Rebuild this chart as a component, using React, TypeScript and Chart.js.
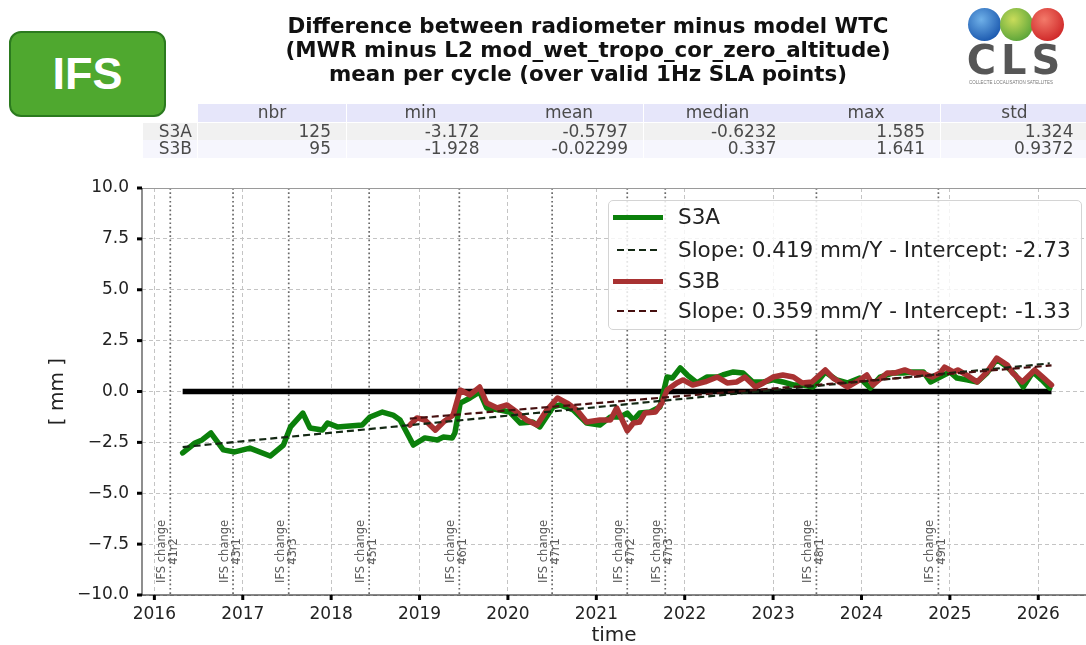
import React, { useEffect, useRef } from "react";
import { Chart, registerables } from "chart.js";
Chart.register(...registerables);

// ---------- data ----------
const s3aDates = [
  2016.32, 2016.46, 2016.54, 2016.64, 2016.78, 2016.91, 2017.08, 2017.31, 2017.46, 2017.54,
  2017.68, 2017.76, 2017.9, 2017.96, 2018.07, 2018.21, 2018.35, 2018.44, 2018.58, 2018.7,
  2018.78, 2018.93, 2019.06, 2019.2, 2019.27, 2019.37, 2019.4, 2019.46, 2019.57, 2019.68,
  2019.76, 2019.91, 2020.02, 2020.14, 2020.28, 2020.36, 2020.51, 2020.59, 2020.74, 2020.89,
  2021.04, 2021.16, 2021.27, 2021.35, 2021.42, 2021.49, 2021.61, 2021.72, 2021.8, 2021.86,
  2021.95, 2022.03, 2022.14, 2022.25, 2022.37, 2022.43, 2022.55, 2022.66, 2022.77, 2022.89,
  2023.0, 2023.11, 2023.23, 2023.34, 2023.45, 2023.59, 2023.72, 2023.84, 2023.98, 2024.1,
  2024.21, 2024.36, 2024.47, 2024.58, 2024.7, 2024.78, 2024.89, 2025.0, 2025.08, 2025.19,
  2025.31, 2025.42, 2025.53, 2025.65, 2025.74, 2025.83, 2025.94, 2026.04, 2026.13,
];
const s3aValues = [
  -3.02, -2.53, -2.38, -2.04, -2.87, -2.97, -2.78, -3.17, -2.63, -1.74,
  -1.06, -1.79, -1.89, -1.55, -1.74, -1.69, -1.65, -1.25, -1.01, -1.16,
  -1.4, -2.63, -2.28, -2.38, -2.24, -2.28, -2.04, -0.57, -0.32, -0.02,
  -0.81, -0.91, -1.01, -1.55, -1.5, -1.74, -0.76, -0.66, -0.91, -1.55,
  -1.65, -1.25, -1.25, -1.06, -1.4, -1.06, -1.01, -0.76, 0.71, 0.66,
  1.16, 0.81, 0.42, 0.71, 0.71, 0.81, 0.96, 0.91, 0.47, 0.47,
  0.57, 0.47, 0.32, 0.32, 0.22, 0.96, 0.57, 0.42, 0.66, 0.17,
  0.71, 0.91, 0.91, 0.96, 0.96, 0.47, 0.71, 0.96, 0.66, 0.57,
  0.47, 0.91, 1.58, 1.2, 0.81, 0.22, 0.96, 0.57, 0.17,
];
const s3bDates = [
  2018.89, 2018.97, 2019.06, 2019.18, 2019.27, 2019.38, 2019.46, 2019.57, 2019.68, 2019.76,
  2019.88, 2019.99, 2020.1, 2020.21, 2020.33, 2020.44, 2020.56, 2020.67, 2020.78, 2020.89,
  2021.04, 2021.16, 2021.23, 2021.35, 2021.42, 2021.49, 2021.55, 2021.67, 2021.74, 2021.8,
  2021.91, 2021.98, 2022.09, 2022.23, 2022.37, 2022.48, 2022.59, 2022.68, 2022.8, 2022.89,
  2023.0, 2023.11, 2023.23, 2023.33, 2023.44, 2023.59, 2023.68, 2023.84, 2023.98, 2024.06,
  2024.13, 2024.29, 2024.38, 2024.49, 2024.58, 2024.69, 2024.8, 2024.89, 2024.94, 2025.04,
  2025.09, 2025.19, 2025.31, 2025.42, 2025.53, 2025.65, 2025.71, 2025.82, 2025.96, 2026.05,
  2026.15,
];
const s3bValues = [
  -1.65, -1.3, -1.4, -1.9, -1.5, -1.16, 0.07, -0.17, 0.22, -0.57,
  -0.81, -0.66, -1.01, -1.4, -1.65, -0.91, -0.32, -0.57, -0.91, -1.5,
  -1.4, -1.4, -0.81, -1.93, -1.55, -1.5, -1.06, -1.01, -0.57, 0.07,
  0.42, 0.57, 0.32, 0.47, 0.71, 0.42, 0.47, 0.71, 0.22, 0.42,
  0.71, 0.81, 0.71, 0.42, 0.47, 1.06, 0.66, 0.22, 0.57, 0.81,
  0.32, 0.91, 0.91, 1.06, 0.91, 0.91, 0.71, 0.91, 1.2, 0.96,
  1.06, 0.81, 0.47, 0.96, 1.64, 1.3, 0.91, 0.47, 1.06, 0.71,
  0.32,
];
const zeroLineDates = [2016.32, 2026.15];
const zeroLineValues = [0, 0];
const trendADates = [2016.32, 2026.13];
const trendAValues = [-2.73, 1.38];
const trendBDates = [2018.89, 2026.15];
const trendBValues = [-1.33, 1.28];

const ifsDates = [2016.18, 2016.89, 2017.52, 2018.43, 2019.45, 2020.5, 2021.35, 2021.78, 2023.49, 2024.87];
const ifsCycles = ["41r2", "43r1", "43r3", "45r1", "46r1", "47r1", "47r2", "47r3", "48r1", "49r1"];
const ifsLabelValue = -7.86;

const xTickYears = [2016, 2017, 2018, 2019, 2020, 2021, 2022, 2023, 2024, 2025, 2026];
const yTickValues = [-10, -7.5, -5, -2.5, 0, 2.5, 5, 7.5, 10];

const titleLines = [
  "Difference between radiometer minus model WTC",
  "(MWR minus L2 mod_wet_tropo_cor_zero_altitude)",
  "mean per cycle (over valid 1Hz SLA points)",
];
const tableColumns = ["nbr", "min", "mean", "median", "max", "std"];
const tableRowNames = ["S3A", "S3B"];
const tableS3A = ["125", "-3.172", "-0.5797", "-0.6232", "1.585", "1.324"];
const tableS3B = ["95", "-1.928", "-0.02299", "0.337", "1.641", "0.9372"];
const legendLabels = [
  "S3A",
  "Slope: 0.419 mm/Y - Intercept: -2.73",
  "S3B",
  "Slope: 0.359 mm/Y - Intercept: -1.33",
];

const GREEN = "#0b800b";
const RED = "#a83232";
const TREND_A = "#142814";
const TREND_B = "#461010";
const FONT = '"DejaVu Sans", sans-serif';

const toPts = (xs: number[], ys: number[]) => xs.map((x, i) => ({ x, y: ys[i] }));

const decorPlugin = {
  id: "decor",
  beforeDatasetsDraw(chart: any) {
    const { ctx, chartArea: a, scales } = chart;
    const x = scales.x;
    const y = scales.y;
    ctx.save();
    ctx.strokeStyle = "#6a6a6a";
    ctx.lineWidth = 1.7;
    ctx.setLineDash([1.7, 2.6]);
    ifsDates.forEach((d) => {
      const px = x.getPixelForValue(d);
      ctx.beginPath();
      ctx.moveTo(px, a.top);
      ctx.lineTo(px, a.bottom);
      ctx.stroke();
    });
    ctx.setLineDash([]);
    ctx.fillStyle = "#5a5a5a";
    ctx.font = `11.5px ${FONT}`;
    ctx.textAlign = "center";
    ctx.textBaseline = "middle";
    const cy = y.getPixelForValue(ifsLabelValue);
    ifsDates.forEach((d, i) => {
      const px = x.getPixelForValue(d);
      ctx.save();
      ctx.translate(px, cy);
      ctx.rotate(-Math.PI / 2);
      ctx.fillText("IFS change", 0, -8);
      ctx.fillText(ifsCycles[i], 0, 4);
      ctx.restore();
    });
    ctx.restore();
  },
  afterDraw(chart: any) {
    const { ctx, chartArea: a, scales } = chart;
    const x = scales.x;
    const y = scales.y;
    ctx.save();
    ctx.lineWidth = 1.2;
    ctx.strokeStyle = "#9a9a9a";
    ctx.beginPath();
    ctx.moveTo(a.left, a.top + 0.5);
    ctx.lineTo(a.right, a.top + 0.5);
    ctx.stroke();
    ctx.strokeStyle = "#444";
    ctx.beginPath();
    ctx.moveTo(a.left, a.top);
    ctx.lineTo(a.left, a.bottom);
    ctx.stroke();
    ctx.strokeStyle = "#111";
    ctx.beginPath();
    ctx.moveTo(a.left, a.bottom);
    ctx.lineTo(a.right, a.bottom);
    ctx.stroke();
    ctx.fillStyle = "#000";
    yTickValues.forEach((v) => {
      const py = y.getPixelForValue(v);
      ctx.fillRect(a.left - 5, py - 1.5, 5, 3);
    });
    xTickYears.forEach((v) => {
      const px = x.getPixelForValue(v);
      ctx.fillRect(px - 1.5, a.bottom, 3, 5);
    });
    ctx.fillStyle = "#222";
    ctx.font = `20px ${FONT}`;
    ctx.textAlign = "center";
    ctx.textBaseline = "middle";
    ctx.fillText("time", (a.left + a.right) / 2, 636);
    ctx.save();
    ctx.translate(58, (a.top + a.bottom) / 2);
    ctx.rotate(-Math.PI / 2);
    ctx.fillText("[ mm ]", 0, 0);
    ctx.restore();
    ctx.restore();
  },
};

function ChartCanvas() {
  const ref = useRef<HTMLCanvasElement | null>(null);
  useEffect(() => {
    if (!ref.current) return;
    const chart = new Chart(ref.current, {
      type: "line",
      data: {
        datasets: [
          {
            label: "zero",
            data: toPts(zeroLineDates, zeroLineValues),
            borderColor: "#000",
            borderWidth: 5.5,
            pointRadius: 0,
            borderCapStyle: "butt",
            order: 5,
          },
          {
            label: "S3A",
            data: toPts(s3aDates, s3aValues),
            borderColor: GREEN,
            borderWidth: 5.5,
            pointRadius: 0,
            borderJoinStyle: "round",
            borderCapStyle: "round",
            tension: 0,
            order: 4,
          },
          {
            label: "S3B",
            data: toPts(s3bDates, s3bValues),
            borderColor: RED,
            borderWidth: 5.5,
            pointRadius: 0,
            borderJoinStyle: "round",
            borderCapStyle: "round",
            tension: 0,
            order: 3,
          },
          {
            label: "trendA",
            data: toPts(trendADates, trendAValues),
            borderColor: TREND_A,
            borderWidth: 2.2,
            borderDash: [7, 4],
            pointRadius: 0,
            order: 2,
          },
          {
            label: "trendB",
            data: toPts(trendBDates, trendBValues),
            borderColor: TREND_B,
            borderWidth: 2.2,
            borderDash: [7, 4],
            pointRadius: 0,
            order: 1,
          },
        ],
      } as any,
      options: {
        animation: false,
        responsive: false,
        devicePixelRatio: 1,
        layout: { padding: { top: 188, left: 0, right: 0, bottom: 0 } },
        plugins: { legend: { display: false }, tooltip: { enabled: false } },
        scales: {
          x: {
            type: "linear",
            min: 2015.86,
            max: 2026.54,
            afterBuildTicks: (s: any) => {
              s.ticks = xTickYears.map((v) => ({ value: v }));
            },
            afterFit: (s: any) => {
              s.height = 50;
            },
            grid: { color: "#c4c4c4", lineWidth: 1, drawTicks: false },
            border: { display: false, dash: [4, 3] },
            ticks: {
              padding: 9,
              color: "#222",
              font: { family: FONT, size: 17 },
              maxRotation: 0,
              autoSkip: false,
              callback: (v: any) => String(v),
            },
          },
          y: {
            type: "linear",
            min: -10,
            max: 10,
            afterBuildTicks: (s: any) => {
              s.ticks = yTickValues.map((v) => ({ value: v }));
            },
            afterFit: (s: any) => {
              s.width = 142;
            },
            grid: { color: "#c4c4c4", lineWidth: 1, drawTicks: false },
            border: { display: false, dash: [4, 3] },
            ticks: {
              padding: 13,
              color: "#222",
              font: { family: FONT, size: 17 },
              autoSkip: false,
              callback: (v: any) => (v < 0 ? "\u2212" : "") + Math.abs(Number(v)).toFixed(1),
            },
          },
        },
      } as any,
      plugins: [decorPlugin],
    });
    return () => chart.destroy();
  }, []);
  return (
    <canvas
      ref={ref}
      width={1086}
      height={645}
      style={{ position: "absolute", left: 0, top: 0, width: 1086, height: 645 }}
    />
  );
}

const colLefts = [198, 346.5, 495, 643.5, 792, 940.5];
const colWidth = 148;
const rowTops = [104, 122.5, 140];
const rowH = 17.5;

function Table() {
  const cells: React.ReactNode[] = [];
  const base: React.CSSProperties = {
    position: "absolute",
    height: rowH,
    lineHeight: `${rowH}px`,
    fontFamily: FONT,
    fontSize: 17,
    color: "#4a4a4a",
    whiteSpace: "nowrap",
    boxSizing: "border-box",
  };
  tableColumns.forEach((c, i) => {
    cells.push(
      <div key={"h" + i} style={{ ...base, left: colLefts[i], width: colWidth, top: rowTops[0], background: "#e6e6fa", textAlign: "center" }}>
        {c}
      </div>
    );
  });
  [tableS3A, tableS3B].forEach((row, r) => {
    const bg = r === 0 ? "#f1f1f1" : "#f6f6fd";
    cells.push(
      <div key={"l" + r} style={{ ...base, left: 143, width: 54, top: rowTops[r + 1], background: bg, textAlign: "right", paddingRight: 5 }}>
        {tableRowNames[r]}
      </div>
    );
    row.forEach((v, i) => {
      cells.push(
        <div key={"c" + r + "_" + i} style={{ ...base, left: colLefts[i], width: colWidth, top: rowTops[r + 1], background: bg, textAlign: "right", paddingRight: 15 }}>
          {v}
        </div>
      );
    });
  });
  return <>{cells}</>;
}

function Legend() {
  const rowsY = [217, 250, 281, 311];
  const text: React.CSSProperties = {
    position: "absolute",
    left: 678,
    fontFamily: FONT,
    fontSize: 21.5,
    lineHeight: "24px",
    height: 24,
    color: "#222",
    whiteSpace: "nowrap",
  };
  const dash = (color: string) =>
    `repeating-linear-gradient(to right, ${color} 0px, ${color} 7px, transparent 7px, transparent 11px)`;
  return (
    <>
      <div
        style={{
          position: "absolute",
          left: 608,
          top: 200,
          width: 474,
          height: 130,
          background: "rgba(255,255,255,0.82)",
          border: "1px solid #d4d4d4",
          borderRadius: 5,
          boxSizing: "border-box",
        }}
      />
      <div style={{ position: "absolute", left: 613, top: rowsY[0] - 2.5, width: 50, height: 5, background: GREEN }} />
      <div style={{ position: "absolute", left: 617, top: rowsY[1] - 1, width: 44, height: 2, background: dash(TREND_A) }} />
      <div style={{ position: "absolute", left: 613, top: rowsY[2] - 2.5, width: 50, height: 5, background: RED }} />
      <div style={{ position: "absolute", left: 617, top: rowsY[3] - 1, width: 44, height: 2, background: dash(TREND_B) }} />
      {legendLabels.map((l, i) => (
        <div key={i} style={{ ...text, top: rowsY[i] - 12 }}>
          {l}
        </div>
      ))}
    </>
  );
}

function Logo() {
  const circle = (left: number, c1: string, c2: string): React.CSSProperties => ({
    position: "absolute",
    left,
    top: 8,
    width: 33,
    height: 33,
    borderRadius: "50%",
    background: `radial-gradient(circle at 40% 35%, ${c2} 0%, ${c1} 75%)`,
  });
  return (
    <>
      <div style={circle(968, "#1d5bb0", "#6fb0e8")} />
      <div style={circle(999.5, "#5ea63a", "#c9dc5a")} />
      <div style={circle(1031, "#d02a2a", "#f37a6a")} />
      <div
        style={{
          position: "absolute",
          left: 966,
          top: 40,
          width: 100,
          textAlign: "center",
          fontFamily: FONT,
          fontWeight: "bold",
          fontSize: 40,
          lineHeight: "40px",
          letterSpacing: 5,
          color: "#565656",
        }}
      >
        CLS
      </div>
      <div
        style={{
          position: "absolute",
          left: 969,
          top: 79,
          fontFamily: '"Liberation Sans", sans-serif',
          fontSize: 6,
          lineHeight: "7px",
          color: "#777",
          whiteSpace: "nowrap",
          transform: "scaleX(0.74)",
          transformOrigin: "left top",
        }}
      >
        COLLECTE LOCALISATION SATELLITES
      </div>
    </>
  );
}

export default function App() {
  return (
    <div
      style={{
        position: "fixed",
        left: 0,
        top: 0,
        width: 1086,
        height: 645,
        overflow: "hidden",
        background: "#fff",
      }}
    >
      <ChartCanvas />
      <div
        style={{
          position: "absolute",
          left: 9,
          top: 31,
          width: 157,
          height: 86,
          boxSizing: "border-box",
          background: "#4fa82f",
          border: "2px solid #2b7a1e",
          borderRadius: 12,
          display: "flex",
          alignItems: "center",
          justifyContent: "center",
          color: "#fff",
          fontFamily: '"Liberation Sans", Arial, sans-serif',
          fontWeight: "bold",
          fontSize: 45,
        }}
      >
        IFS
      </div>
      <div
        style={{
          position: "absolute",
          left: 188,
          top: 14,
          width: 800,
          textAlign: "center",
          fontFamily: FONT,
          fontWeight: "bold",
          fontSize: 21.4,
          lineHeight: "24px",
          color: "#111",
        }}
      >
        {titleLines.map((t, i) => (
          <div key={i}>{t}</div>
        ))}
      </div>
      <Table />
      <Logo />
      <Legend />
    </div>
  );
}
